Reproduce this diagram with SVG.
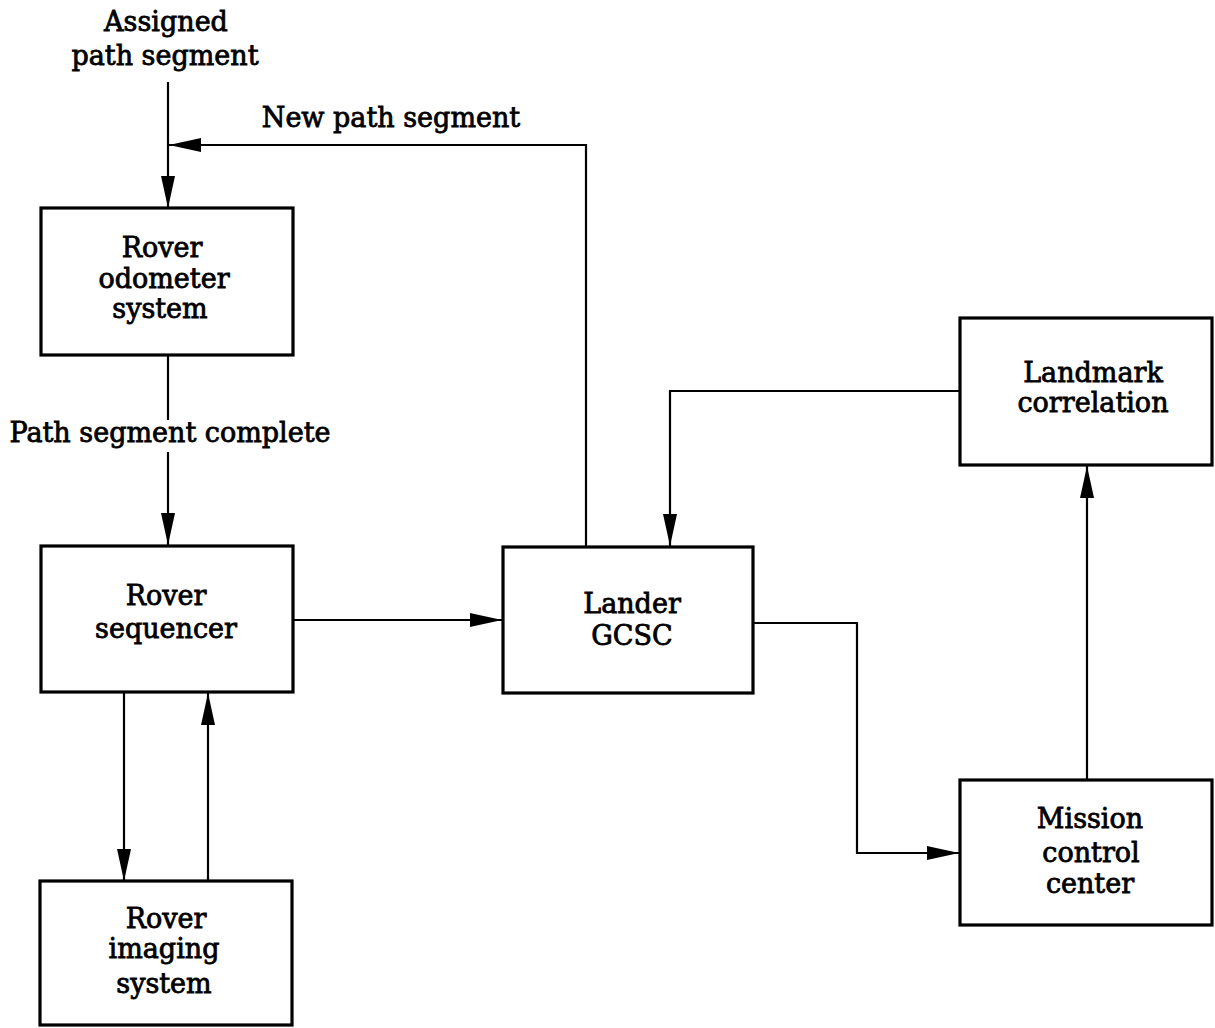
<svg xmlns="http://www.w3.org/2000/svg" width="1215" height="1028" viewBox="0 0 1215 1028">
  <style>
    .box { fill: #fff; stroke: #000; stroke-width: 3.2; }
    .wire { fill: none; stroke: #000; stroke-width: 2.2; }
    text { font-family: "DejaVu Serif", "Liberation Serif", serif; font-size: 27px; fill: #000; stroke: #000; stroke-width: 0.8; text-anchor: middle; }
  </style>
  <defs>
    <marker id="arrow" markerUnits="userSpaceOnUse" markerWidth="34" markerHeight="16" refX="32" refY="8" orient="auto">
      <path d="M0,1 L32,8 L0,15 Z" fill="#000"/>
    </marker>
  </defs>

  <rect width="1215" height="1028" fill="#fff"/>

  <!-- connectors -->
  <g id="connectors">
    <path class="wire" d="M168,82 V208" marker-end="url(#arrow)"/>
    <path class="wire" d="M586,547 V145 H169" marker-end="url(#arrow)"/>
    <path class="wire" d="M168,355 V420"/>
    <path class="wire" d="M168,452 V545" marker-end="url(#arrow)"/>
    <path class="wire" d="M293,620 H502" marker-end="url(#arrow)"/>
    <path class="wire" d="M124,692 V881" marker-end="url(#arrow)"/>
    <path class="wire" d="M208,881 V693" marker-end="url(#arrow)"/>
    <path class="wire" d="M960,391 H670 V546" marker-end="url(#arrow)"/>
    <path class="wire" d="M753,623 H857 V853 H959" marker-end="url(#arrow)"/>
    <path class="wire" d="M1087,780 V466" marker-end="url(#arrow)"/>
  </g>

  <!-- free labels -->
  <g id="labels">
    <text x="166" y="31">Assigned</text>
    <text x="165" y="65">path segment</text>
    <text x="391" y="127">New path segment</text>
    <text x="170" y="442">Path segment complete</text>
  </g>

  <g id="odometer">
    <rect class="box" x="41" y="208" width="252" height="147"/>
    <text x="162" y="257">Rover</text>
    <text x="164" y="288">odometer</text>
    <text x="160" y="318">system</text>
  </g>

  <g id="sequencer">
    <rect class="box" x="41" y="546" width="252" height="146"/>
    <text x="166" y="605">Rover</text>
    <text x="166" y="638">sequencer</text>
  </g>

  <g id="imaging">
    <rect class="box" x="40" y="881" width="252" height="144"/>
    <text x="166" y="928">Rover</text>
    <text x="164" y="958">imaging</text>
    <text x="164" y="993">system</text>
  </g>

  <g id="lander">
    <rect class="box" x="503" y="547" width="250" height="146"/>
    <text x="632" y="613">Lander</text>
    <text x="632" y="645">GCSC</text>
  </g>

  <g id="landmark">
    <rect class="box" x="960" y="318" width="252" height="147"/>
    <text x="1093" y="382">Landmark</text>
    <text x="1093" y="412">correlation</text>
  </g>

  <g id="mission">
    <rect class="box" x="960" y="780" width="252" height="145"/>
    <text x="1090" y="828">Mission</text>
    <text x="1091" y="862">control</text>
    <text x="1090" y="893">center</text>
  </g>
</svg>
